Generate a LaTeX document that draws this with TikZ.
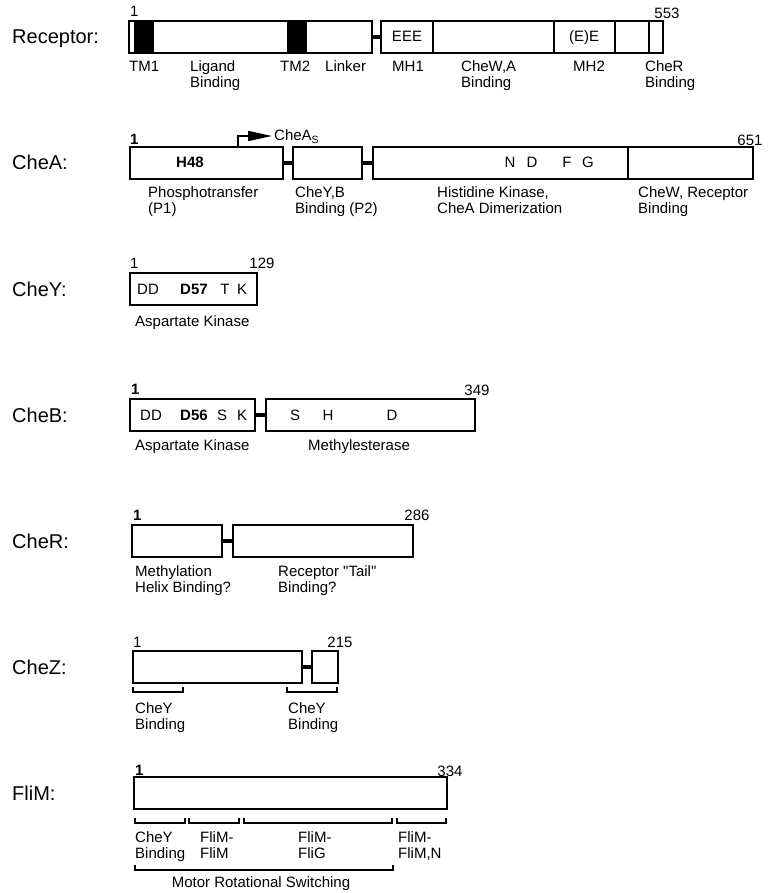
\documentclass[tikz,border=0pt]{standalone}
\usepackage{fontspec}
\setmainfont{Liberation Sans}[Ligatures=TeXOff]
\usetikzlibrary{fit,arrows.meta}
\newcommand\twol[2]{\begin{tabular}[t]{@{}l@{}}#1\\#2\end{tabular}}
\begin{document}
\begin{tikzpicture}[x=1pt,y=-1pt,
 dom/.style={draw, line width=1.9pt, inner sep=0pt},
 divl/.style={line width=1.9pt},
 link/.style={line width=3.5pt},
 sm/.style={font=\fontsize{15}{16}\selectfont, inner sep=0pt},
 lbl/.style={sm, anchor=base west},
 num/.style={sm, anchor=base},
 big/.style={font=\fontsize{20}{24}\selectfont, inner sep=0pt, anchor=base west},
 brk/.style={line width=1.6pt},
]
\useasboundingbox (0,0) rectangle (768,893);

% ---------- left labels
\node[big] (tRec) at (12,44) {Receptor:};
\node[big] (tA) at (12,170) {CheA:};
\node[big] (tY) at (12,296) {CheY:};
\node[big] (tB) at (12,422) {CheB:};
\node[big] (tR) at (12,548) {CheR:};
\node[big] (tZ) at (12,674) {CheZ:};
\node[big] (tM) at (12,800) {FliM:};

% ---------- Receptor
\fill (134,21) rectangle (154,53);
\fill (287,21) rectangle (307,53);
\node[dom, fit={(129,21) (372,53)}] (ra) {};
\node[dom, fit={(381,21) (663,53)}] (rb) {};
\draw[link] (ra.east) -- (rb.west);
\draw[divl] (433,21) -- (433,53);
\draw[divl] (554,21) -- (554,53);
\draw[divl] (615,21) -- (615,53);
\draw[divl] (649,21) -- (649,53);
\node[num] (rE1) at (407,42) {EEE};
\node[num] (rE2) at (584,42) {(E)E};
\node[lbl] (rn1) at (130,17) {1};
\node[num] (rn2) at (667,19) {553};
\node[lbl] (rl1) at (129,72) {TM1};
\node[lbl] (rl2) at (190,72) {\twol{Ligand}{Binding}};
\node[lbl] (rl3) at (280,72) {TM2};
\node[lbl] (rl4) at (325,72) {Linker};
\node[lbl] (rl5) at (392,72) {MH1};
\node[lbl] (rl6) at (461,72) {\twol{CheW,A}{Binding}};
\node[lbl] (rl7) at (573,72) {MH2};
\node[lbl] (rl8) at (645,72) {\twol{CheR}{Binding}};

% ---------- CheA
\node[dom, fit={(130,147) (283,179)}] (a1) {};
\node[dom, fit={(293,147) (362,179)}] (a2) {};
\node[dom, fit={(373,147) (628,179)}] (a3) {};
\node[dom, fit={(628,147) (753,179)}] (a4) {};
\draw[link] (a1.east) -- (a2.west);
\draw[link] (a2.east) -- (a3.west);
\node[lbl] (an1) at (130,145) {\bfseries 1};
\node[num] (an2) at (750,146) {651};
\node[num] (aH) at (190,168) {\bfseries H48};
\node[num] (aN) at (510,168) {N};
\node[num] (aD) at (532,168) {D};
\node[num] (aF) at (567,168) {F};
\node[num] (aG) at (588,168) {G};
\coordinate (ast) at (238,147);
\coordinate (atip) at (272,136);
\draw[line width=1.5pt, -{Triangle[length=24pt,width=10pt]}] (ast) |- (atip);
\node[lbl] (cas) at (274,141) {CheA\textsubscript{S}};
\node[lbl] (al1) at (148,198) {\twol{Phosphotransfer}{(P1)}};
\node[lbl] (al2) at (295,198) {\twol{CheY,B}{Binding (P2)}};
\node[lbl] (al3) at (437,198) {\twol{Histidine Kinase,}{CheA Dimerization}};
\node[lbl] (al4) at (638,198) {\twol{CheW, Receptor}{Binding}};

% ---------- CheY
\node[dom, fit={(130,273) (257,305)}] (y1) {};
\node[lbl] (yn1) at (130,268) {1};
\node[num] (yn2) at (262,268) {129};
\node[num] (yDD) at (148,294) {DD};
\node[num] (yD57) at (194,294) {\bfseries D57};
\node[num] (yT) at (225,294) {T};
\node[num] (yK) at (242,294) {K};
\node[lbl] (yl1) at (135,326) {Aspartate Kinase};

% ---------- CheB
\node[dom, fit={(130,399) (255,431)}] (b1) {};
\node[dom, fit={(266,399) (475,431)}] (b2) {};
\draw[link] (b1.east) -- (b2.west);
\node[lbl] (bn1) at (131,394) {\bfseries 1};
\node[num] (bn2) at (477,395) {349};
\node[num] (bDD) at (151,420) {DD};
\node[num] (bD56) at (194,420) {\bfseries D56};
\node[num] (bS) at (222,420) {S};
\node[num] (bK) at (242,420) {K};
\node[num] (bS2) at (295,420) {S};
\node[num] (bH) at (328,420) {H};
\node[num] (bD) at (392,420) {D};
\node[lbl] (bl1) at (135,450) {Aspartate Kinase};
\node[lbl] (bl2) at (308,450) {Methylesterase};

% ---------- CheR
\node[dom, fit={(132,525) (222,557)}] (r1) {};
\node[dom, fit={(233,525) (413,557)}] (r2) {};
\draw[link] (r1.east) -- (r2.west);
\node[lbl] (cn1) at (133,520) {\bfseries 1};
\node[num] (cn2) at (417,520) {286};
\node[lbl] (cl1) at (135,576) {\twol{Methylation}{Helix Binding?}};
\node[lbl] (cl2) at (278,576) {\twol{Receptor "Tail"}{Binding?}};

% ---------- CheZ
\node[dom, fit={(133,651) (302,683)}] (z1) {};
\node[dom, fit={(312,651) (338,683)}] (z2) {};
\draw[link] (z1.east) -- (z2.west);
\node[lbl] (zn1) at (133,647) {1};
\node[num] (zn2) at (340,647) {215};
\draw[brk] (133,687) -- (133,692) -- (183,692) -- (183,687);
\draw[brk] (287,687) -- (287,692) -- (337,692) -- (337,687);
\node[lbl] (zl1) at (135,713) {\twol{CheY}{Binding}};
\node[lbl] (zl2) at (288,713) {\twol{CheY}{Binding}};

% ---------- FliM
\node[dom, fit={(134,777) (447,809)}] (f1) {};
\node[lbl] (fn1) at (135,775) {\bfseries 1};
\node[num] (fn2) at (450,776) {334};
\draw[brk] (135,818) -- (135,823) -- (185,823) -- (185,818);
\draw[brk] (189,818) -- (189,823) -- (239,823) -- (239,818);
\draw[brk] (244,818) -- (244,823) -- (392,823) -- (392,818);
\draw[brk] (397,818) -- (397,823) -- (446,823) -- (446,818);
\node[lbl] (fl1) at (135,842) {\twol{CheY}{Binding}};
\node[lbl] (fl2) at (200,842) {\twol{FliM-}{FliM}};
\node[lbl] (fl3) at (298,842) {\twol{FliM-}{FliG}};
\node[lbl] (fl4) at (398,842) {\twol{FliM-}{FliM,N}};
\draw[brk] (135,865) -- (135,870) -- (393,870) -- (393,865);
\node[num] (fl5) at (261,887) {Motor Rotational Switching};
\end{tikzpicture}
\end{document}
